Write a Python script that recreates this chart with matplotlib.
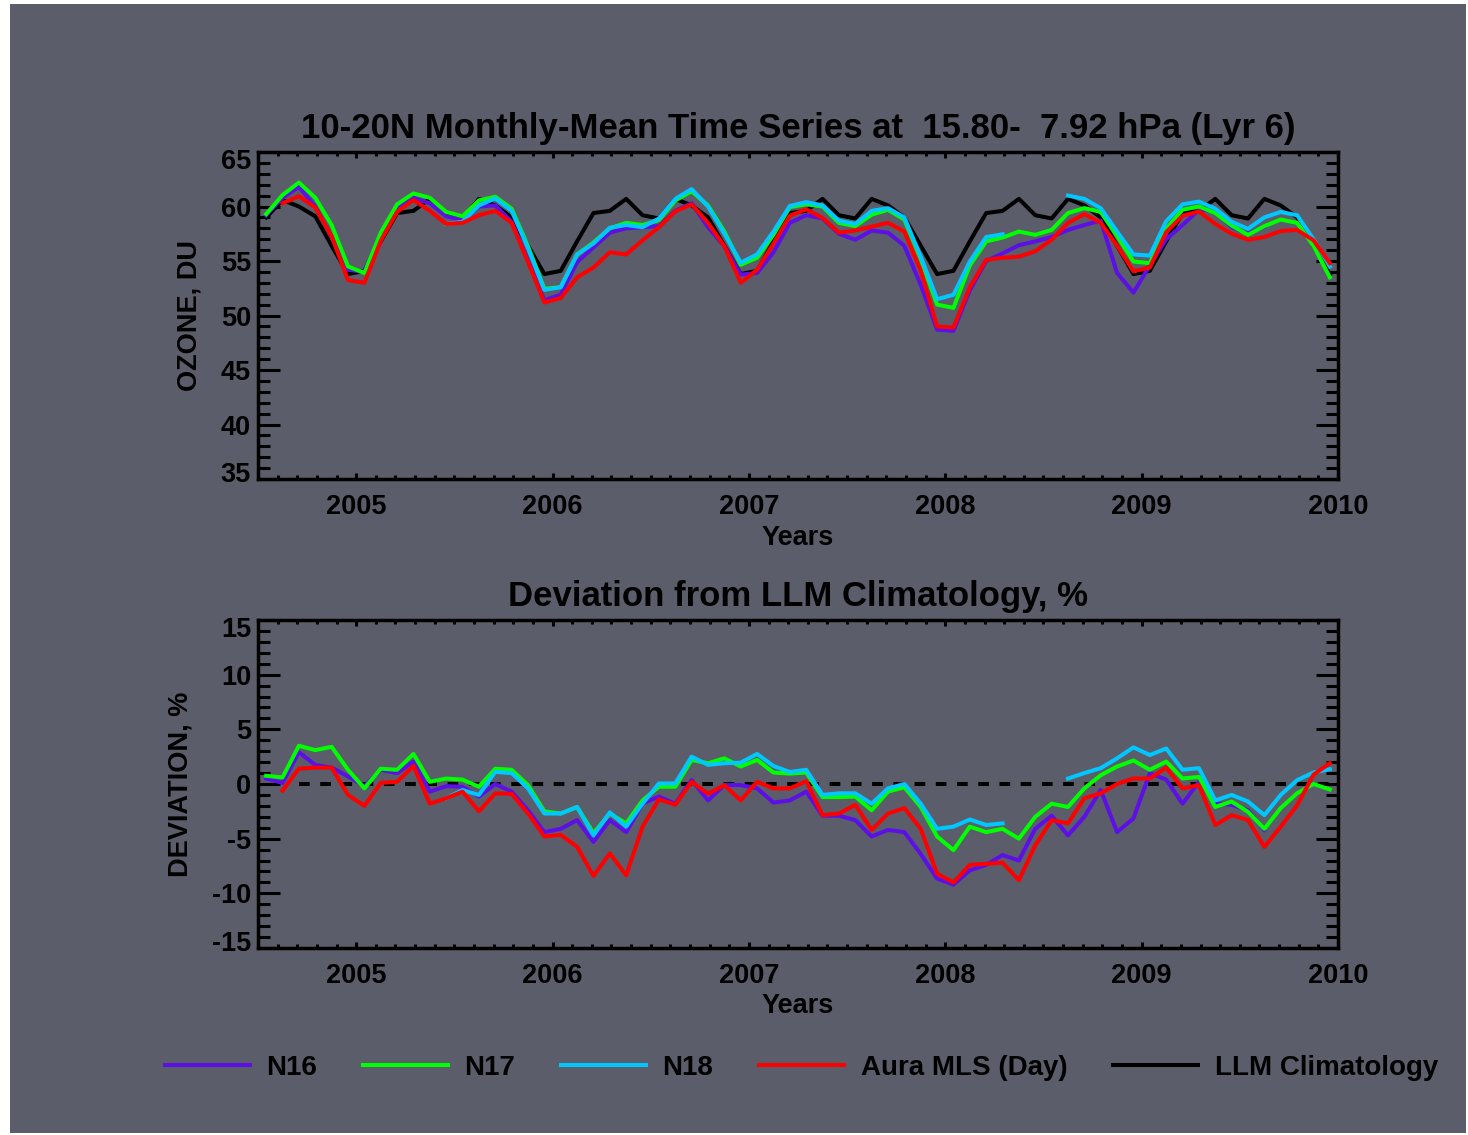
import numpy as np
import pandas as pd
import matplotlib
matplotlib.use('Agg')
import matplotlib.pyplot as plt
from matplotlib.ticker import MultipleLocator
from matplotlib.patches import Rectangle
import matplotlib.transforms as mtransforms

nan = np.nan

# ---------------- data ----------------
months = pd.date_range('2004-07-01', '2009-12-01', freq='MS')
t = months.year + (months.month - 0.5) / 12.0

year_ticks = [2005, 2006, 2007, 2008, 2009, 2010]
du_ticks = [35, 40, 45, 50, 55, 60, 65]
dev_ticks = [-15, -10, -5, 0, 5, 10, 15]

llm_clim = [59.0, 60.6, 60.0, 59.1, 56.4, 53.8,
            54.1, 56.8, 59.4, 59.6, 60.7, 59.2, 58.9, 60.7, 60.1, 59.0, 56.4, 53.8,
            54.1, 56.8, 59.4, 59.6, 60.7, 59.2, 58.9, 60.7, 60.1, 59.0, 56.4, 53.8,
            54.1, 56.8, 59.4, 59.6, 60.7, 59.2, 58.9, 60.7, 60.1, 59.0, 56.4, 53.8,
            54.1, 56.8, 59.4, 59.6, 60.7, 59.2, 58.9, 60.7, 60.1, 59.0, 56.4, 53.8,
            54.1, 56.8, 59.4, 59.6, 60.7, 59.2, 58.9, 60.7, 60.1, 59.0, 56.4, 53.8]

n16_du = [59.2, 60.8, 61.8, 60.0, 57.2, 54.2,
          54.0, 57.5, 60.0, 60.8, 60.3, 59.1, 58.75, 60.0, 60.1, 58.6, 55.05, 51.4,
          51.9, 54.9, 56.25, 57.6, 58.0, 58.1, 58.2, 59.6, 60.3, 58.1, 56.35, 53.75,
          53.9, 55.8, 58.5, 59.2, 58.9, 57.5, 56.95, 57.8, 57.6, 56.4, 52.8, 48.7,
          48.6, 52.3, 55.0, 55.7, 56.45, 56.8, 57.2, 57.85, 58.3, 58.7, 53.9, 52.1,
          54.6, 57.0, 58.3, 59.7, 59.6, 58.1, 57.5, 58.15, nan, nan, nan, nan]

n17_du = [59.3, 61.05, 62.2, 60.8, 58.3, 54.5,
          53.9, 57.6, 60.2, 61.2, 60.8, 59.5, 59.1, 60.55, 60.9, 59.8, 56.35, 52.45,
          52.6, 55.6, 56.7, 58.0, 58.5, 58.3, 58.75, 60.55, 61.4, 60.1, 57.7, 54.65,
          55.3, 57.4, 59.95, 60.2, 60.0, 58.5, 58.2, 59.25, 59.7, 58.8, 55.2, 51.0,
          50.7, 54.6, 56.8, 57.15, 57.7, 57.4, 57.85, 59.4, 59.85, 59.5, 57.3, 54.95,
          54.8, 57.95, 59.7, 60.0, 59.4, 58.25, 57.4, 58.2, 58.8, 58.5, 56.4, 53.5]

n18_du = [nan, nan, nan, nan, nan, nan,
          nan, nan, nan, nan, nan, 58.4, 58.6, 60.1, 60.75, 59.6, 56.2, 52.35,
          52.6, 55.6, 56.6, 58.05, 58.3, 58.1, 58.9, 60.7, 61.6, 60.0, 57.5, 54.85,
          55.6, 57.7, 60.05, 60.4, 60.1, 58.7, 58.4, 59.6, 59.85, 59.0, 55.4, 51.5,
          51.9, 54.95, 57.2, 57.45, nan, nan, nan, 61.0, 60.7, 59.85, 57.7, 55.6,
          55.5, 58.65, 60.2, 60.45, 59.8, 58.6, 57.95, 59.0, 59.5, 59.2, 57.0, 54.5]

mls_du = [nan, 60.3, 60.95, 59.9, 57.25, 53.25,
          53.0, 56.85, 59.5, 60.6, 59.6, 58.4, 58.5, 59.2, 59.6, 58.5, 54.9, 51.2,
          51.6, 53.5, 54.4, 55.8, 55.6, 56.9, 58.1, 59.55, 60.2, 58.5, 56.35, 53.0,
          54.2, 56.6, 59.15, 59.75, 58.95, 57.6, 57.8, 58.15, 58.5, 57.7, 54.1, 49.0,
          48.9, 52.6, 55.1, 55.3, 55.4, 55.9, 56.95, 58.5, 59.3, 58.5, 56.4, 54.05,
          54.4, 57.65, 59.15, 59.55, 58.4, 57.5, 56.95, 57.2, 57.75, 57.85, 56.9, 54.8]

n16_dev = [0.5, 0.1, 2.9, 1.75, 1.5, 0.7,
           -0.2, 1.3, 1.0, 2.05, -0.7, -0.2, -0.25, -1.15, 0.0, -0.7, -2.4, -4.4,
           -4.1, -3.3, -5.3, -3.3, -4.4, -1.8, -1.15, -1.8, 0.35, -1.5, -0.1, -0.1,
           -0.4, -1.7, -1.5, -0.7, -2.9, -2.9, -3.3, -4.8, -4.2, -4.4, -6.4, -8.65,
           -9.2, -7.9, -7.4, -6.5, -7.0, -4.1, -2.9, -4.7, -3.0, -0.55, -4.4, -3.15,
           1.0, 0.4, -1.8, 0.2, -1.8, -1.9, -2.4, -4.2, nan, nan, nan, nan]

n17_dev = [0.75, 0.6, 3.5, 3.1, 3.4, 1.3,
           -0.4, 1.4, 1.3, 2.75, 0.2, 0.5, 0.4, -0.25, 1.4, 1.3, -0.1, -2.5,
           -2.7, -2.1, -4.5, -2.7, -3.6, -1.5, -0.25, -0.25, 2.2, 1.9, 2.35, 1.6,
           2.2, 1.05, 0.95, 1.05, -1.2, -1.2, -1.15, -2.4, -0.7, -0.3, -2.1, -4.8,
           -6.05, -3.9, -4.4, -4.1, -5.0, -3.0, -1.8, -2.1, -0.4, 0.8, 1.6, 2.15,
           1.3, 2.05, 0.5, 0.65, -2.1, -1.6, -2.55, -4.1, -2.2, -0.85, 0.0, -0.5]

n18_dev = [nan, nan, nan, nan, nan, nan,
           nan, nan, nan, nan, nan, -1.3, -0.55, -1.0, 1.1, 1.0, -0.4, -2.7,
           -2.7, -2.1, -4.7, -2.6, -3.9, -1.8, 0.05, 0.05, 2.5, 1.75, 1.9, 1.95,
           2.75, 1.65, 1.1, 1.3, -1.0, -0.85, -0.85, -1.8, -0.4, 0.0, -1.8, -4.1,
           -3.9, -3.25, -3.75, -3.6, nan, nan, nan, 0.5, 1.0, 1.45, 2.35, 3.35,
           2.65, 3.25, 1.3, 1.45, -1.5, -1.0, -1.6, -2.85, -1.0, 0.35, 1.05, 1.35]

mls_dev = [nan, -0.6, 1.4, 1.5, 1.5, -1.0,
           -2.0, 0.1, 0.2, 1.65, -1.8, -1.3, -0.7, -2.5, -0.85, -0.9, -2.7, -4.8,
           -4.65, -5.75, -8.4, -6.35, -8.35, -3.9, -1.4, -1.9, 0.2, -0.9, -0.1, -1.5,
           0.2, -0.4, -0.4, 0.25, -2.85, -2.7, -1.9, -4.2, -2.7, -2.2, -4.1, -8.2,
           -9.0, -7.4, -7.3, -7.2, -8.8, -5.6, -3.3, -3.6, -1.3, -0.85, 0.0, 0.5,
           0.5, 1.5, -0.4, -0.1, -3.75, -2.85, -3.3, -5.75, -3.9, -1.95, 0.85, 1.9]

labels = ['N16', 'N17', 'N18', 'Aura MLS (Day)', 'LLM Climatology']
colors = ['#5c10e6', '#00ff00', '#00c8ff', '#ff0000', '#000000']

# ---------------- style ----------------
plt.rcParams['font.family'] = ['Liberation Sans', 'DejaVu Sans']
plt.rcParams['font.weight'] = 'bold'
plt.rcParams['axes.unicode_minus'] = False

BG = '#5b5d6a'
W, H = 1468, 1135
fig = plt.figure(figsize=(W / 100, H / 100), dpi=100)
fig.patch.set_facecolor('white')
fig.patches.append(Rectangle((10 / W, 2 / H), (W - 12) / W, (H - 6) / H,
                             transform=fig.transFigure, facecolor=BG,
                             edgecolor='none', zorder=-10))

ax1 = fig.add_axes([258 / W, 1 - 479 / H, 1080 / W, 327 / H])
ax2 = fig.add_axes([258 / W, 1 - 948 / H, 1080 / W, 328 / H])

LW = 2.9
TS = 19.5


def style(ax, yticks, ylim):
    ax.set_facecolor('none')
    ax.set_xlim(2004.5, 2010.0)
    ax.set_ylim(*ylim)
    ax.set_xticks(year_ticks)
    ax.set_xticklabels([str(y) for y in year_ticks])
    ax.xaxis.set_minor_locator(MultipleLocator(0.1))
    ax.set_yticks(yticks)
    ax.set_yticklabels([str(v) for v in yticks])
    ax.yaxis.set_minor_locator(MultipleLocator(1))
    for s in ax.spines.values():
        s.set_linewidth(2.5)
        s.set_color('black')
    ax.tick_params(axis='both', which='both', direction='in', top=True,
                   right=True, color='black', width=2.2, labelsize=TS)
    ax.tick_params(axis='x', which='major', length=4.5, pad=11)
    ax.tick_params(axis='x', which='minor', length=2.8)
    ax.tick_params(axis='y', which='major', length=16, pad=5)
    ax.tick_params(axis='y', which='minor', length=8.5)
    for lab in ax.get_xticklabels() + ax.get_yticklabels():
        lab.set_fontweight('bold')
    # nudge end labels inward as in the reference
    ylabs = ax.get_yticklabels()
    ylabs[0].set_transform(ylabs[0].get_transform() +
                           mtransforms.ScaledTranslation(0, 5 / 72, fig.dpi_scale_trans))
    ylabs[-1].set_transform(ylabs[-1].get_transform() +
                            mtransforms.ScaledTranslation(0, -5 / 72, fig.dpi_scale_trans))
    ax.set_xlabel('Years', fontsize=TS, fontweight='bold')


# ---------------- top panel ----------------
style(ax1, du_ticks, (35, 65))
ax1.plot(t, llm_clim, color=colors[4], lw=LW, label=labels[4], zorder=2)
ax1.plot(t, n16_du, color=colors[0], lw=LW, label=labels[0], zorder=3)
ax1.plot(t, n17_du, color=colors[1], lw=LW, label=labels[1], zorder=4)
ax1.plot(t, n18_du, color=colors[2], lw=LW, label=labels[2], zorder=5)
ax1.plot(t, mls_du, color=colors[3], lw=LW, label=labels[3], zorder=6)
ax1.set_title('10-20N Monthly-Mean Time Series at  15.80-  7.92 hPa (Lyr 6)',
              fontsize=25, fontweight='bold', pad=10)
ax1.set_ylabel('OZONE, DU', fontsize=TS, fontweight='bold')
ax1.yaxis.set_label_coords(-0.051, 0.5)
ax1.xaxis.set_label_coords(0.5, -0.14)

# ---------------- bottom panel ----------------
style(ax2, dev_ticks, (-15, 15))
ax2.axhline(0, xmin=0.038, xmax=1.0, color='black', lw=2.9,
            dashes=(2.65, 2.62), zorder=1)
ax2.plot(t, n16_dev, color=colors[0], lw=LW, zorder=3)
ax2.plot(t, n17_dev, color=colors[1], lw=LW, zorder=4)
ax2.plot(t, n18_dev, color=colors[2], lw=LW, zorder=5)
ax2.plot(t, mls_dev, color=colors[3], lw=LW, zorder=6)
ax2.set_title('Deviation from LLM Climatology, %', fontsize=25,
              fontweight='bold', pad=10)
ax2.set_ylabel('DEVIATION, %', fontsize=TS, fontweight='bold')
ax2.yaxis.set_label_coords(-0.060, 0.5)
ax2.xaxis.set_label_coords(0.5, -0.137)

# ---------------- legend ----------------
h, l = ax1.get_legend_handles_labels()
hmap = dict(zip(l, h))
leg = fig.legend([hmap[x] for x in labels], labels, loc='center left',
                 bbox_to_anchor=(165 / W, 1 - 1068 / H), ncol=5, frameon=False,
                 fontsize=20, handlelength=3.05, handletextpad=0.6,
                 columnspacing=1.65, borderpad=0, borderaxespad=0)
for txt in leg.get_texts():
    txt.set_fontweight('bold')

fig.savefig('out.png', dpi=100, facecolor=fig.get_facecolor())
